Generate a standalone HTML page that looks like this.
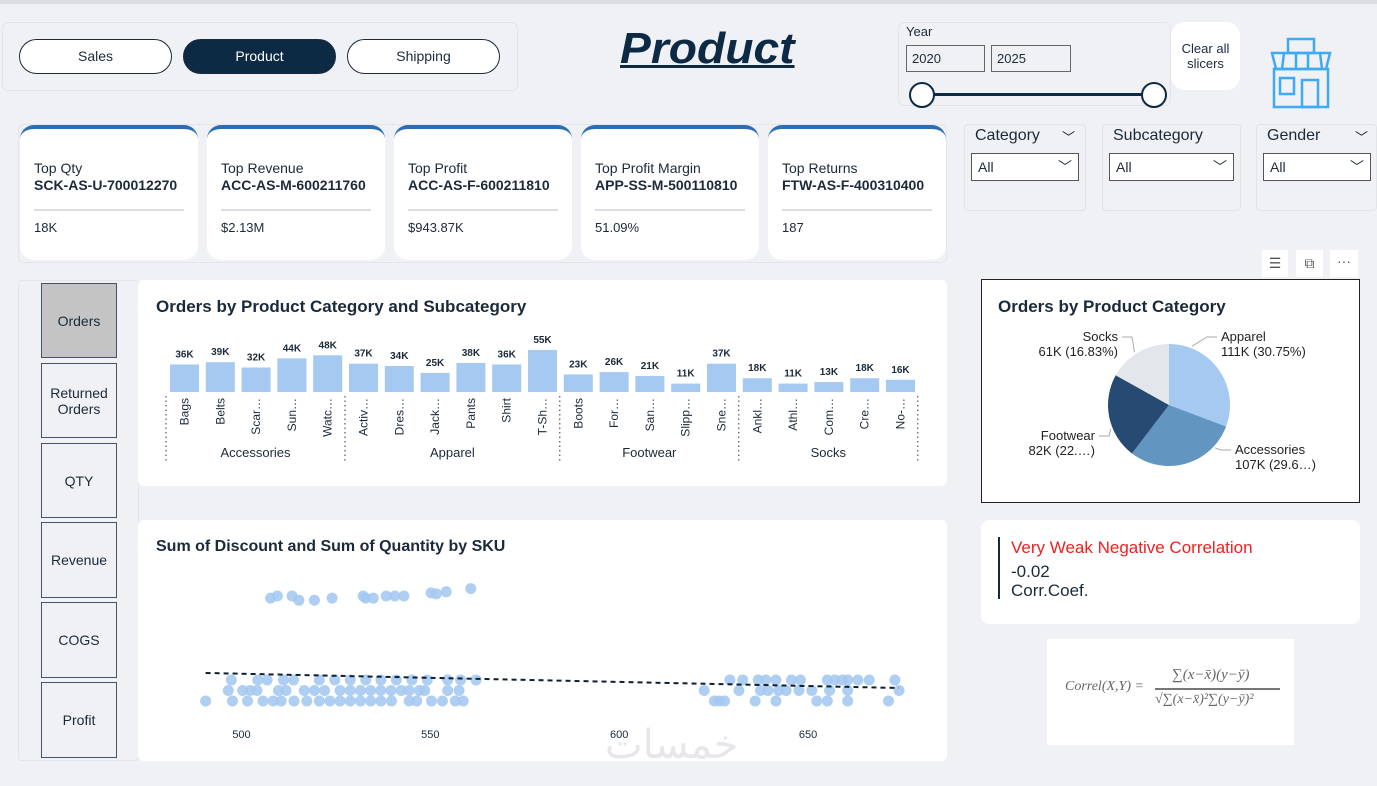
<!DOCTYPE html>
<html><head><meta charset="utf-8">
<style>
*{box-sizing:border-box;margin:0;padding:0}
body{width:1377px;height:786px;background:#eff1f5;font-family:"Liberation Sans",sans-serif;position:relative;overflow:hidden;color:#1b2a3a}
.abs{position:absolute}
.btn{position:absolute;border:1px solid #1b2a3a;border-radius:18px;background:#fff;text-align:center;font-size:14px;line-height:33px}
.card{position:absolute;background:#fff;border-radius:14px;overflow:hidden;border-top:4px solid #2f6db3}
.card .l{position:absolute;left:14px;top:31px;font-size:14px}
.card .c{position:absolute;left:14px;top:48px;font-size:14px;font-weight:bold}
.card .hr{position:absolute;left:14px;right:14px;top:80px;height:2px;background:#ddd}
.card .v{position:absolute;left:14px;top:91px;font-size:13px}
.dd{position:absolute;background:#eff1f5;border:1px solid #e2e4e8;border-radius:4px}
.dd .t{position:absolute;left:10px;top:2px;font-size:16px}
.dd .s{position:absolute;left:6px;top:28px;height:28px;border:1px solid #555;background:#fff;font-size:14px;padding:5px 0 0 6px}
.side{position:absolute;left:41px;width:76px;border:1.5px solid #44546a;background:#eff1f5;font-size:14px;text-align:center;display:flex;align-items:center;justify-content:center}
.panel{position:absolute;background:#fff;border-radius:6px}
.ptitle{position:absolute;font-size:17px;font-weight:bold;color:#1b2a3a}
</style></head><body>
<div class="abs" style="left:0;top:0;width:1377px;height:4px;background:#dcdde1"></div>

<div class="abs" style="left:2px;top:22px;width:516px;height:69px;border:1px solid #e3e5ea;border-radius:6px"></div>
<div class="btn" style="left:19px;top:39px;width:153px;height:35px">Sales</div>
<div class="btn" style="left:183px;top:39px;width:153px;height:35px;background:#0d2a45;color:#fff">Product</div>
<div class="btn" style="left:347px;top:39px;width:153px;height:35px">Shipping</div>

<div class="abs" style="left:620px;top:24px;font-size:44px;font-weight:bold;font-style:italic;color:#0d2a45;text-decoration:underline;text-decoration-thickness:3px;transform:scaleX(1.05);transform-origin:left">Product</div>

<div class="abs" style="left:898px;top:22px;width:273px;height:84px;border:1px solid #e3e5ea;border-radius:6px">
 <div class="abs" style="left:7px;top:1px;font-size:13px">Year</div>
 <div class="abs" style="left:7px;top:22px;width:79px;height:27px;border:1px solid #666;font-size:13px;padding:5px 0 0 5px">2020</div>
 <div class="abs" style="left:92px;top:22px;width:80px;height:27px;border:1px solid #666;font-size:13px;padding:5px 0 0 5px">2025</div>
 <div class="abs" style="left:23px;top:70px;width:232px;height:3px;background:#0d2a45"></div>
 <div class="abs" style="left:10px;top:59px;width:26px;height:26px;border-radius:50%;border:2px solid #0d2a45;background:#fff"></div>
 <div class="abs" style="left:242px;top:59px;width:26px;height:26px;border-radius:50%;border:2px solid #0d2a45;background:#fff"></div>
</div>
<div class="abs" style="left:1171px;top:22px;width:69px;height:68px;background:#fff;border-radius:14px;font-size:13px;text-align:center;padding-top:19px;line-height:15px">Clear all<br>slicers</div>
<svg class="abs" style="left:1266px;top:36px" width="70" height="74">
 <g fill="none" stroke="#3fa9f5" stroke-width="2.5">
 <rect x="22" y="3" width="26" height="14"/><path d="M6 17h58l-4 16H10z"/><path d="M18 17l-2 16M30 17v16M42 17v16M54 17l2 16"/>
 <rect x="8" y="33" width="54" height="38"/><rect x="14" y="42" width="14" height="16"/><rect x="36" y="44" width="16" height="27"/></g></svg>

<div class="abs" style="left:18px;top:124px;width:929px;height:139px;border:1px solid #e3e5ea;border-radius:6px"></div>
<div class="card" style="left:20px;top:125px;width:178px;height:135px"><div class="l">Top Qty</div><div class="c">SCK-AS-U-700012270</div><div class="hr"></div><div class="v">18K</div></div>
<div class="card" style="left:207px;top:125px;width:178px;height:135px"><div class="l">Top Revenue</div><div class="c">ACC-AS-M-600211760</div><div class="hr"></div><div class="v">$2.13M</div></div>
<div class="card" style="left:394px;top:125px;width:178px;height:135px"><div class="l">Top Profit</div><div class="c">ACC-AS-F-600211810</div><div class="hr"></div><div class="v">$943.87K</div></div>
<div class="card" style="left:581px;top:125px;width:178px;height:135px"><div class="l">Top Profit Margin</div><div class="c">APP-SS-M-500110810</div><div class="hr"></div><div class="v">51.09%</div></div>
<div class="card" style="left:768px;top:125px;width:178px;height:135px"><div class="l">Top Returns</div><div class="c">FTW-AS-F-400310400</div><div class="hr"></div><div class="v">187</div></div>

<div class="dd" style="left:964px;top:124px;width:122px;height:87px"><div class="t">Category</div><div class="abs" style="right:10px;top:2px;font-size:13px">﹀</div><div class="s" style="width:108px">All<span style="position:absolute;right:6px;top:3px">﹀</span></div></div>
<div class="dd" style="left:1102px;top:124px;width:139px;height:87px"><div class="t">Subcategory</div><div class="s" style="width:125px">All<span style="position:absolute;right:6px;top:3px">﹀</span></div></div>
<div class="dd" style="left:1256px;top:124px;width:121px;height:87px"><div class="t">Gender</div><div class="abs" style="right:8px;top:2px;font-size:13px">﹀</div><div class="s" style="width:108px">All<span style="position:absolute;right:6px;top:3px">﹀</span></div></div>

<div class="abs" style="left:1262px;top:250px;width:26px;height:27px;background:#fff;text-align:center;font-size:14px;line-height:26px;color:#555">☰</div>
<div class="abs" style="left:1296px;top:250px;width:27px;height:27px;background:#fff;text-align:center;font-size:14px;line-height:26px;color:#555">⧉</div>
<div class="abs" style="left:1330px;top:250px;width:28px;height:27px;background:#fff;text-align:center;font-size:14px;line-height:22px;color:#555">···</div>

<div class="abs" style="left:18px;top:280px;width:121px;height:481px;border:1px solid #e3e5ea;border-radius:4px"></div>
<div class="side" style="top:283px;height:75px;background:#c4c4c4">Orders</div>
<div class="side" style="top:363px;height:75px">Returned<br>Orders</div>
<div class="side" style="top:443px;height:75px">QTY</div>
<div class="side" style="top:522px;height:76px">Revenue</div>
<div class="side" style="top:602px;height:76px">COGS</div>
<div class="side" style="top:682px;height:76px">Profit</div>

<div class="panel" style="left:138px;top:280px;width:809px;height:206px"></div>
<div class="ptitle" style="left:156px;top:297px">Orders by Product Category and Subcategory</div>
<svg id="bar" class="abs" style="left:0;top:0" width="1377" height="786"></svg>

<div class="panel" style="left:138px;top:520px;width:809px;height:241px"></div>
<div class="ptitle" style="left:156px;top:538px;font-size:16px">Sum of Discount and Sum of Quantity by SKU</div>
<svg id="sc" class="abs" style="left:0;top:0" width="1377" height="786"></svg>

<div class="abs" style="left:981px;top:279px;width:379px;height:224px;background:#fff;border:1.5px solid #222"></div>
<div class="ptitle" style="left:998px;top:297px;font-size:17px">Orders by Product Category</div>
<svg id="pie" class="abs" style="left:0;top:0" width="1377" height="786"></svg>

<div class="panel" style="left:981px;top:520px;width:379px;height:104px;border-radius:8px">
 <div class="abs" style="left:17px;top:17px;width:2px;height:62px;background:#1b2a3a"></div>
 <div class="abs" style="left:30px;top:18px;font-size:17px;color:#f02020">Very Weak Negative Correlation</div>
 <div class="abs" style="left:30px;top:42px;font-size:17px">-0.02</div>
 <div class="abs" style="left:30px;top:61px;font-size:17px">Corr.Coef.</div>
</div>
<div class="abs" style="left:1047px;top:639px;width:247px;height:106px;background:#fff;font-family:'Liberation Serif',serif;color:#666;font-style:italic">
 <div class="abs" style="left:18px;top:40px;font-size:14px">Correl(X,Y) =</div>
 <div class="abs" style="left:125px;top:28px;font-size:15px">∑(x−x̄)(y−ȳ)</div>
 <div class="abs" style="left:108px;top:49px;width:125px;height:1.5px;background:#777"></div>
 <div class="abs" style="left:108px;top:53px;font-size:14px">√∑(x−x̄)²∑(y−ȳ)²</div>
</div>
<div class="abs" style="left:605px;top:722px;font-size:40px;color:#e6e7ea;font-family:'DejaVu Sans',sans-serif">خمسات</div>

<script>
const NS="http://www.w3.org/2000/svg";
function mk(p,t,a,txt){const e=document.createElementNS(NS,t);for(const k in a)e.setAttribute(k,a[k]);if(txt!=null)e.textContent=txt;p.appendChild(e);return e;}

// ---- bar chart data ----
const subcats=["Bags","Belts","Scar…","Sun…","Watc…","Activ…","Dres…","Jack…","Pants","Shirt","T-Sh…","Boots","For…","San…","Slipp…","Sne…","Ankl…","Athl…","Com…","Cre…","No-…"];
const orders=[36,39,32,44,48,37,34,25,38,36,55,23,26,21,11,37,18,11,13,18,16];
const groups=["Accessories","Apparel","Footwear","Socks"];
const groupSizes=[5,6,5,5];

const bar=document.getElementById('bar');
const bx0=166,pitch=35.8,bw=29,base=392;
const bxs=i=>bx0+4+i*pitch;
const by=v=>base-v*0.765;
orders.forEach((v,i)=>{
 const r=mk(bar,'rect',{x:bxs(i),y:by(v),width:bw,height:base-by(v),fill:'#a5c9f1'});
 
 
 const t=mk(bar,'text',{x:bxs(i)+bw/2,y:by(v)-7,'text-anchor':'middle','font-size':'10','font-weight':'bold',fill:'#1b2a3a'},v+'K');
 
 
 const s=mk(bar,'text',{transform:`translate(${bxs(i)+bw/2+4},398) rotate(-90)`,'text-anchor':'end','font-size':'12',fill:'#1b2a3a'},subcats[i]);
 
 
});
let acc=0;
groups.forEach((g,gi)=>{
 const xs=bx0+acc*pitch;
 const ln=mk(bar,'line',{x1:xs,y1:396,x2:xs,y2:462,stroke:'#333','stroke-dasharray':'1.5,3'});
 
 
 const t=mk(bar,'text',{x:xs+groupSizes[gi]*pitch/2,y:457,'text-anchor':'middle','font-size':'13',fill:'#1b2a3a'},g);
 
 
 acc+=groupSizes[gi];
});
{const xs=bx0+acc*pitch;const ln=mk(bar,'line',{x1:xs,y1:396,x2:xs,y2:462,stroke:'#333','stroke-dasharray':'1.5,3'});
 
 }

// ---- scatter data ----
const ptX=[490.5,497.6,501.6,505.7,508.4,510.5,513.9,517.3,520.6,523.4,526.1,528.8,531.5,534.2,536.9,539.7,544.4,546.4,550.3,553.2,556.6,558.7,625.2,626.5,627.9,636,641.5,652.3,655.1,660.5,671.3,
496.5,500.3,502.3,504.1,509.8,511.8,516.6,519.3,522,526.1,528.8,531.5,534.2,536.9,539.6,542.3,544.4,547.1,548.5,554.6,557.6,622.5,631.7,637.4,639.4,642.2,644.2,647.6,651,655.7,660.5,674.1,
497.3,504.3,506.8,511.1,513.8,520.6,524.7,528.8,532.9,536.9,541,545.1,549.2,554.6,558,562.1,629.3,632.7,636.8,638.8,641.5,645.6,648,655.1,657.1,659.1,660.5,663.2,666.2,673,
507.7,509.5,513.4,515.2,519.3,524,532.2,532.9,534.9,538.3,540.6,543,550.2,551.6,554.2,560.7];
const ptY=[1,1,1,1,1,1,1,1,1,1,1,1,1,1,1,1,1,1,1,1,1,1,1,1,1,1,1,1,1,1,1,
2,2,2,2,2,2,2,2,2,2,2,2,2,2,2,2,2,2,2,2,2,2,2,2,2,2,2,2,2,2,2,2,
3,3,3,3,3,3,3,3,3,3,3,3,3,3,3,3,3,3,3,3,3,3,3,3,3,3,3,3,3,3,
10.8,11,11,10.6,10.6,10.8,11,10.8,10.8,11,11,11,11.3,11.2,11.4,11.7];
const xTicks=[500,550,600,650];
const trendX=[490.5,674];
const trendY=[3.67,2.24];
const sc=document.getElementById('sc');
const sx=v=>241.5+(v-500)*3.777;
const sy=v=>711.5-v*10.5;
ptX.forEach((x,i)=>{
 const c=mk(sc,'circle',{cx:sx(x),cy:sy(ptY[i]),r:5.5,fill:'#a5c9f1','fill-opacity':'0.9'});
 
 
});
const tl=mk(sc,'line',{x1:sx(trendX[0]),y1:sy(trendY[0]),x2:sx(trendX[1]),y2:sy(trendY[1]),stroke:'#0d2033','stroke-width':2,'stroke-dasharray':'5,4'});


xTicks.forEach(t=>{
 const e=mk(sc,'text',{x:sx(t),y:738,'text-anchor':'middle','font-size':'11',fill:'#1b2a3a'},t);
 
 
});

// ---- pie data ----
const pieCats=["Apparel","Accessories","Footwear","Socks"];
const pieVals=[111,107,82,61];
const pieLabels=["111K (30.75%)","107K (29.6…)","82K (22.…)","61K (16.83%)"];
const pieColors=["#a5c9f1","#6295bf","#264a72","#e3e7ec"];
// label layout (text anchor points + leader edge angle), not data
const labelAt=[[1221,341,'start',-1.2],[1235,454,'start',0.75],[1095,440,'end',2.75],[1118,341,'end',-2.15]];
const pie=document.getElementById('pie');
const cx=1169,cy=405,R=61;
const tot=pieVals.reduce((a,b)=>a+b,0);
let ang=-Math.PI/2;
pieVals.forEach((v,i)=>{
 const a2=ang+v/tot*2*Math.PI;
 const large=(a2-ang)>Math.PI?1:0;
 const p=mk(pie,'path',{d:`M${cx},${cy}L${cx+R*Math.cos(ang)},${cy+R*Math.sin(ang)}A${R},${R} 0 ${large} 1 ${cx+R*Math.cos(a2)},${cy+R*Math.sin(a2)}Z`,fill:pieColors[i]});
 
 
 const [tx,ty,anc,edge]=labelAt[i];
 const right=anc==='start';
 const ex=tx+(right?-4:4);
 const ly=ty-4;
 const ln=mk(pie,'polyline',{points:`${cx+(R+2)*Math.cos(edge)},${cy+(R+2)*Math.sin(edge)} ${ex+(right?-10:10)},${ly} ${ex},${ly}`,fill:'none',stroke:'#aaa'});
 
 
 const t1=mk(pie,'text',{x:tx,y:ty,'text-anchor':anc,'font-size':'13',fill:'#222'},pieCats[i]);
 
 
 const t2=mk(pie,'text',{x:tx,y:ty+15,'text-anchor':anc,'font-size':'13',fill:'#222'},pieLabels[i]);
 
 
 ang=a2;
});
</script>
</body></html>
